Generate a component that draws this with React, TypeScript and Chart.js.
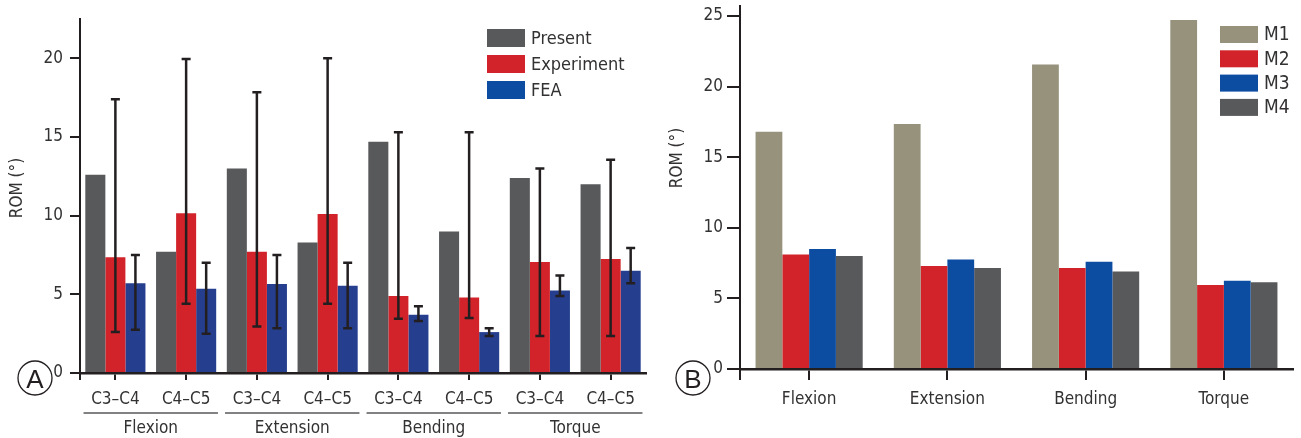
import React, { useEffect, useRef } from "react";
import { Chart, registerables } from "chart.js";

Chart.register(...registerables);

const FONT = "'DejaVu Sans Condensed', 'Liberation Sans Narrow', 'Arial Narrow', sans-serif";
const LETTER_FONT = "'Liberation Sans', Arial, sans-serif";
const TEXT = "#333132";
const INK = "#231f20";

// ---------- Panel A data ----------
const segmentLabelsA = ["C3–C4", "C4–C5", "C3–C4", "C4–C5", "C3–C4", "C4–C5", "C3–C4", "C4–C5"];
const motionGroupsA = ["Flexion", "Extension", "Bending", "Torque"];
const seriesNamesA = ["Present", "Experiment", "FEA"];
const presentA = [12.6, 7.7, 13.0, 8.3, 14.7, 9.0, 12.4, 12.0];
const experimentA = [7.35, 10.15, 7.7, 10.1, 4.9, 4.8, 7.05, 7.25];
const experimentLowA = [2.6, 4.4, 2.95, 4.4, 3.45, 3.5, 2.35, 2.35];
const experimentHighA = [17.4, 19.95, 17.85, 20.0, 15.3, 15.3, 13.0, 13.55];
const feaA = [5.7, 5.35, 5.65, 5.55, 3.7, 2.6, 5.25, 6.5];
const feaLowA = [2.75, 2.5, 2.85, 2.85, 3.3, 2.35, 4.9, 5.7];
const feaHighA = [7.5, 7.0, 7.5, 7.0, 4.25, 2.85, 6.2, 7.95];
const yTicksA = [0, 5, 10, 15, 20];

// ---------- Panel B data ----------
const motionsB = ["Flexion", "Extension", "Bending", "Torque"];
const seriesNamesB = ["M1", "M2", "M3", "M4"];
const m1B = [16.8, 17.35, 21.55, 24.7];
const m2B = [8.1, 7.3, 7.15, 5.95];
const m3B = [8.5, 7.75, 7.6, 6.25];
const m4B = [8.0, 7.15, 6.9, 6.15];
const yTicksB = [0, 5, 10, 15, 20, 25];

// ---------- colours ----------
const GRAY = "#58595b";
const RED = "#d2232a";
const NAVY = "#263e8e";
const BLUE = "#0c4da2";
const KHAKI = "#96927c";

const errorBarPlugin = {
  id: "errorBars",
  afterDatasetsDraw(chart: any, _a: any, opts: any) {
    const bars = opts.bars || [];
    const ctx = chart.ctx;
    const y = chart.scales.y;
    ctx.save();
    ctx.strokeStyle = INK;
    bars.forEach((b: any) => {
      const meta = chart.getDatasetMeta(b.dataset);
      meta.data.forEach((el: any, i: number) => {
        const x = el.x;
        const yl = y.getPixelForValue(b.low[i]);
        const yh = y.getPixelForValue(b.high[i]);
        ctx.lineWidth = 2.5;
        ctx.beginPath();
        ctx.moveTo(x, yl);
        ctx.lineTo(x, yh);
        ctx.stroke();
        ctx.beginPath();
        ctx.moveTo(x - 4.5, yl);
        ctx.lineTo(x + 4.5, yl);
        ctx.moveTo(x - 4.5, yh);
        ctx.lineTo(x + 4.5, yh);
        ctx.stroke();
      });
    });
    ctx.restore();
  },
};

const decorPlugin = {
  id: "decor",
  afterDraw(chart: any, _a: any, opts: any) {
    const ctx = chart.ctx;
    const { left, bottom } = chart.chartArea;
    ctx.save();
    // y axis extends a little below zero
    ctx.strokeStyle = INK;
    ctx.lineWidth = 2;
    ctx.beginPath();
    ctx.moveTo(left, bottom);
    ctx.lineTo(left, bottom + opts.axisExtend);
    ctx.stroke();

    // y title
    ctx.save();
    ctx.translate(opts.titleX, opts.titleY);
    ctx.rotate(-Math.PI / 2);
    ctx.font = `17px ${FONT}`;
    ctx.fillStyle = TEXT;
    ctx.textAlign = "center";
    ctx.textBaseline = "middle";
    ctx.fillText(opts.title, 0, 0);
    ctx.restore();

    // panel letter in circle
    ctx.beginPath();
    ctx.lineWidth = 1.3;
    ctx.strokeStyle = INK;
    ctx.arc(opts.letterX, opts.letterY, 17, 0, Math.PI * 2);
    ctx.stroke();
    ctx.font = `26px ${LETTER_FONT}`;
    ctx.fillStyle = INK;
    ctx.textAlign = "center";
    ctx.textBaseline = "alphabetic";
    ctx.fillText(opts.letter, opts.letterX, opts.letterY + 9.5);

    // legend
    const lg = opts.legend;
    ctx.font = `${lg.fontSize}px ${FONT}`;
    ctx.textAlign = "left";
    ctx.textBaseline = "middle";
    lg.labels.forEach((label: string, i: number) => {
      const top = lg.top + i * lg.step;
      ctx.fillStyle = lg.colors[i];
      ctx.fillRect(lg.left, top, lg.boxW, lg.boxH);
      ctx.fillStyle = TEXT;
      ctx.fillText(label, lg.left + lg.boxW + 6, top + lg.boxH / 2 + 1);
    });

    // grouped category labels
    if (opts.groups) {
      const xs = chart.scales.x;
      const half = (xs.getPixelForValue(1) - xs.getPixelForValue(0)) * 0.45;
      opts.groups.forEach((g: string, gi: number) => {
        const a = xs.getPixelForValue(gi * 2);
        const b = xs.getPixelForValue(gi * 2 + 1);
        ctx.strokeStyle = GRAY;
        ctx.lineWidth = 1.6;
        ctx.beginPath();
        ctx.moveTo(a - half, opts.groupLineY);
        ctx.lineTo(b + half, opts.groupLineY);
        ctx.stroke();
        ctx.fillStyle = TEXT;
        ctx.font = `17px ${FONT}`;
        ctx.textAlign = "center";
        ctx.textBaseline = "alphabetic";
        ctx.fillText(g, (a + b) / 2, opts.groupTextY);
      });
    }
    ctx.restore();
  },
};

function keepTicks(list: number[]) {
  return (scale: any) => {
    scale.ticks = scale.ticks.filter((t: any) => list.includes(t.value));
  };
}

function noPad(width?: number, height?: number) {
  return (scale: any) => {
    if (width !== undefined) scale.width = width;
    if (height !== undefined) scale.height = height;
    scale.paddingTop = 0;
    scale.paddingBottom = 0;
    scale.paddingLeft = 0;
    scale.paddingRight = 0;
  };
}

function makeScales(opt: any) {
  return {
    x: {
      type: "category",
      offset: true,
      grid: {
        display: true,
        offset: false,
        drawOnChartArea: false,
        drawTicks: true,
        tickLength: opt.xTickLen,
        color: INK,
        lineWidth: 2,
      },
      border: { display: true, color: INK, width: 2.5 },
      ticks: {
        autoSkip: false,
        maxRotation: 0,
        color: TEXT,
        padding: opt.xPad,
        font: { family: FONT, size: 17 },
      },
      afterFit: noPad(undefined, opt.xHeight),
    },
    y: {
      min: 0,
      max: opt.yMax,
      grid: {
        display: true,
        drawOnChartArea: false,
        drawTicks: true,
        tickLength: opt.yTickLen,
        color: INK,
        lineWidth: 2,
      },
      border: { display: true, color: INK, width: 2 },
      ticks: {
        stepSize: 5,
        includeBounds: false,
        color: TEXT,
        padding: opt.yPad,
        font: { family: FONT, size: 17 },
      },
      afterBuildTicks: keepTicks(opt.yTicks),
      afterFit: noPad(80, undefined),
    },
  };
}

function PanelA() {
  const ref = useRef<HTMLCanvasElement>(null);
  useEffect(() => {
    const chart = new Chart(ref.current as HTMLCanvasElement, {
      type: "bar",
      data: {
        labels: segmentLabelsA,
        datasets: [
          { label: seriesNamesA[0], data: presentA, backgroundColor: GRAY },
          { label: seriesNamesA[1], data: experimentA, backgroundColor: RED },
          { label: seriesNamesA[2], data: feaA, backgroundColor: NAVY },
        ],
      },
      options: {
        responsive: false,
        animation: false,
        events: [],
        datasets: { bar: { categoryPercentage: 0.85, barPercentage: 1 } },
        layout: { padding: { left: 0, right: 14, top: 19, bottom: 0 } },
        plugins: {
          legend: { display: false },
          tooltip: { enabled: false },
          errorBars: {
            bars: [
              { dataset: 1, low: experimentLowA, high: experimentHighA },
              { dataset: 2, low: feaLowA, high: feaHighA },
            ],
          },
          decor: {
            axisExtend: 7,
            title: "ROM (°)",
            titleX: 18,
            titleY: 188,
            letter: "A",
            letterX: 35,
            letterY: 378,
            legend: {
              labels: seriesNamesA,
              colors: [GRAY, RED, BLUE],
              left: 487,
              top: 29,
              step: 26,
              boxW: 38,
              boxH: 18,
              fontSize: 18,
            },
            groups: motionGroupsA,
            groupLineY: 413,
            groupTextY: 433,
          },
        },
        scales: makeScales({
          xTickLen: 7,
          xPad: 9,
          xHeight: 65,
          yMax: 22.5,
          yTickLen: 10,
          yPad: 7,
          yTicks: yTicksA,
        }),
      } as any,
      plugins: [errorBarPlugin, decorPlugin],
    });
    return () => chart.destroy();
  }, []);
  return (
    <canvas
      ref={ref}
      width={660}
      height={438}
      style={{ position: "absolute", left: 0, top: 0, width: 660, height: 438 }}
    />
  );
}

function PanelB() {
  const ref = useRef<HTMLCanvasElement>(null);
  useEffect(() => {
    const chart = new Chart(ref.current as HTMLCanvasElement, {
      type: "bar",
      data: {
        labels: motionsB,
        datasets: [
          { label: seriesNamesB[0], data: m1B, backgroundColor: KHAKI },
          { label: seriesNamesB[1], data: m2B, backgroundColor: RED },
          { label: seriesNamesB[2], data: m3B, backgroundColor: BLUE },
          { label: seriesNamesB[3], data: m4B, backgroundColor: GRAY },
        ],
      },
      options: {
        responsive: false,
        animation: false,
        events: [],
        datasets: { bar: { categoryPercentage: 0.775, barPercentage: 1 } },
        layout: { padding: { left: 0, right: 8, top: 6, bottom: 0 } },
        plugins: {
          legend: { display: false },
          tooltip: { enabled: false },
          decor: {
            axisExtend: 11,
            title: "ROM (°)",
            titleX: 18,
            titleY: 158,
            letter: "B",
            letterX: 33,
            letterY: 378,
            legend: {
              labels: seriesNamesB,
              colors: [KHAKI, RED, BLUE, GRAY],
              left: 560,
              top: 26,
              step: 24.3,
              boxW: 38,
              boxH: 17,
              fontSize: 19,
            },
          },
        },
        scales: makeScales({
          xTickLen: 11,
          xPad: 9,
          xHeight: 69,
          yMax: 25.7,
          yTickLen: 13,
          yPad: 4,
          yTicks: yTicksB,
        }),
      } as any,
      plugins: [decorPlugin],
    });
    return () => chart.destroy();
  }, []);
  return (
    <canvas
      ref={ref}
      width={641}
      height={438}
      style={{ position: "absolute", left: 660, top: 0, width: 641, height: 438 }}
    />
  );
}

export default function App() {
  return (
    <div
      style={{
        position: "fixed",
        left: 0,
        top: 0,
        width: 1301,
        height: 438,
        background: "#ffffff",
        overflow: "hidden",
      }}
    >
      <PanelA />
      <PanelB />
    </div>
  );
}
